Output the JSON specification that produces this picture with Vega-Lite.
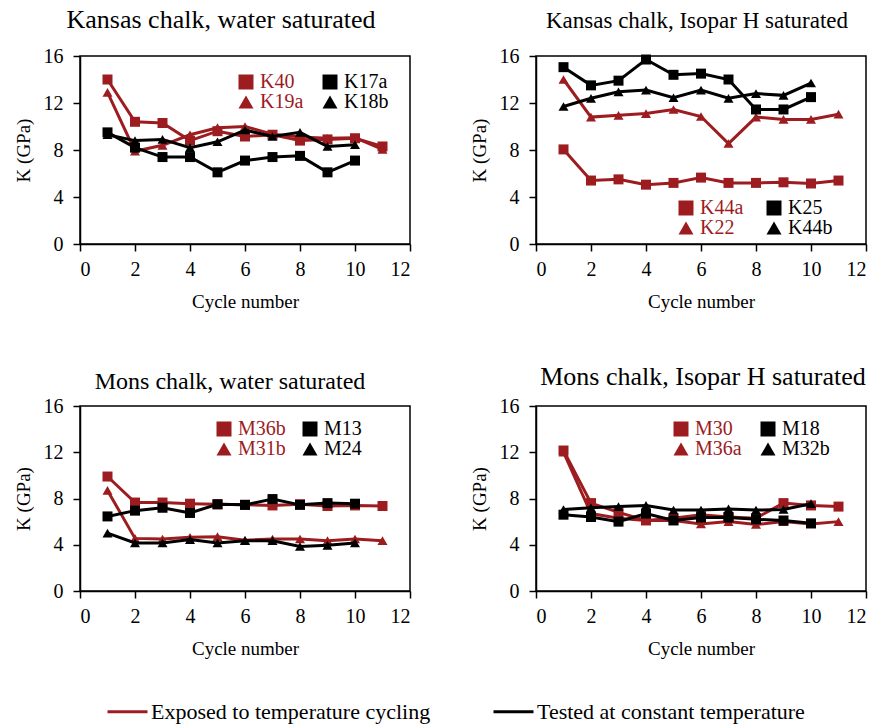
{
  "$schema": "https://vega.github.io/schema/vega-lite/v6.json",
  "background": "white",
  "padding": {"left": 13, "top": 6, "right": 0, "bottom": 0},
  "config": {
    "font": "Liberation Serif",
    "view": {"stroke": "black", "strokeWidth": 1.5},
    "style": {"guide-label": {"font": "Liberation Serif"}, "guide-title": {"font": "Liberation Serif"}},
    "axis": {
      "grid": false, "domainColor": "black", "domainWidth": 1.5,
      "tickColor": "black", "tickWidth": 1.5, "tickSize": 7,
      "labelFont": "Liberation Serif", "labelFontSize": 20, "labelColor": "black",
      "titleFont": "Liberation Serif", "titleFontSize": 19, "titleFontWeight": "normal", "titleColor": "black"
    },
    "axisX": {"labelPadding": 8, "titlePadding": 13},
    "axisY": {"labelPadding": 10, "titlePadding": 10},
    "title": {"font": "Liberation Serif", "fontSize": 26, "fontWeight": "normal", "color": "black", "anchor": "middle", "frame": "group", "baseline": "alphabetic"}
  },
  "datasets": {
    "k": [
      {"p":"A","s":"K40","g":"E","c":1,"k":14.0},{"p":"A","s":"K40","g":"E","c":2,"k":10.4},{"p":"A","s":"K40","g":"E","c":3,"k":10.3},{"p":"A","s":"K40","g":"E","c":4,"k":8.8},{"p":"A","s":"K40","g":"E","c":5,"k":9.6},{"p":"A","s":"K40","g":"E","c":6,"k":9.15},{"p":"A","s":"K40","g":"E","c":7,"k":9.3},{"p":"A","s":"K40","g":"E","c":8,"k":8.8},{"p":"A","s":"K40","g":"E","c":9,"k":8.9},{"p":"A","s":"K40","g":"E","c":10,"k":9.0},{"p":"A","s":"K40","g":"E","c":11,"k":8.3},
      {"p":"A","s":"K19a","g":"E","c":1,"k":12.9},{"p":"A","s":"K19a","g":"E","c":2,"k":7.9},{"p":"A","s":"K19a","g":"E","c":3,"k":8.4},{"p":"A","s":"K19a","g":"E","c":4,"k":9.3},{"p":"A","s":"K19a","g":"E","c":5,"k":9.9},{"p":"A","s":"K19a","g":"E","c":6,"k":10.0},{"p":"A","s":"K19a","g":"E","c":7,"k":9.35},{"p":"A","s":"K19a","g":"E","c":8,"k":9.1},{"p":"A","s":"K19a","g":"E","c":9,"k":9.0},{"p":"A","s":"K19a","g":"E","c":10,"k":9.05},{"p":"A","s":"K19a","g":"E","c":11,"k":8.05},
      {"p":"A","s":"K17a","g":"T","c":1,"k":9.5},{"p":"A","s":"K17a","g":"T","c":2,"k":8.2},{"p":"A","s":"K17a","g":"T","c":3,"k":7.4},{"p":"A","s":"K17a","g":"T","c":4,"k":7.4},{"p":"A","s":"K17a","g":"T","c":5,"k":6.1},{"p":"A","s":"K17a","g":"T","c":6,"k":7.1},{"p":"A","s":"K17a","g":"T","c":7,"k":7.4},{"p":"A","s":"K17a","g":"T","c":8,"k":7.5},{"p":"A","s":"K17a","g":"T","c":9,"k":6.1},{"p":"A","s":"K17a","g":"T","c":10,"k":7.1},
      {"p":"A","s":"K18b","g":"T","c":1,"k":9.3},{"p":"A","s":"K18b","g":"T","c":2,"k":8.8},{"p":"A","s":"K18b","g":"T","c":3,"k":8.9},{"p":"A","s":"K18b","g":"T","c":4,"k":8.2},{"p":"A","s":"K18b","g":"T","c":5,"k":8.7},{"p":"A","s":"K18b","g":"T","c":6,"k":9.7},{"p":"A","s":"K18b","g":"T","c":7,"k":9.15},{"p":"A","s":"K18b","g":"T","c":8,"k":9.5},{"p":"A","s":"K18b","g":"T","c":9,"k":8.3},{"p":"A","s":"K18b","g":"T","c":10,"k":8.45},

      {"p":"B","s":"K44a","g":"E","c":1,"k":8.05},{"p":"B","s":"K44a","g":"E","c":2,"k":5.4},{"p":"B","s":"K44a","g":"E","c":3,"k":5.5},{"p":"B","s":"K44a","g":"E","c":4,"k":5.05},{"p":"B","s":"K44a","g":"E","c":5,"k":5.2},{"p":"B","s":"K44a","g":"E","c":6,"k":5.65},{"p":"B","s":"K44a","g":"E","c":7,"k":5.2},{"p":"B","s":"K44a","g":"E","c":8,"k":5.2},{"p":"B","s":"K44a","g":"E","c":9,"k":5.25},{"p":"B","s":"K44a","g":"E","c":10,"k":5.15},{"p":"B","s":"K44a","g":"E","c":11,"k":5.4},
      {"p":"B","s":"K22","g":"E","c":1,"k":14.0},{"p":"B","s":"K22","g":"E","c":2,"k":10.8},{"p":"B","s":"K22","g":"E","c":3,"k":10.95},{"p":"B","s":"K22","g":"E","c":4,"k":11.1},{"p":"B","s":"K22","g":"E","c":5,"k":11.45},{"p":"B","s":"K22","g":"E","c":6,"k":10.85},{"p":"B","s":"K22","g":"E","c":7,"k":8.55},{"p":"B","s":"K22","g":"E","c":8,"k":10.8},{"p":"B","s":"K22","g":"E","c":9,"k":10.6},{"p":"B","s":"K22","g":"E","c":10,"k":10.6},{"p":"B","s":"K22","g":"E","c":11,"k":11.05},
      {"p":"B","s":"K25","g":"T","c":1,"k":15.05},{"p":"B","s":"K25","g":"T","c":2,"k":13.5},{"p":"B","s":"K25","g":"T","c":3,"k":13.9},{"p":"B","s":"K25","g":"T","c":4,"k":15.7},{"p":"B","s":"K25","g":"T","c":5,"k":14.4},{"p":"B","s":"K25","g":"T","c":6,"k":14.5},{"p":"B","s":"K25","g":"T","c":7,"k":14.0},{"p":"B","s":"K25","g":"T","c":8,"k":11.45},{"p":"B","s":"K25","g":"T","c":9,"k":11.45},{"p":"B","s":"K25","g":"T","c":10,"k":12.5},
      {"p":"B","s":"K44b","g":"T","c":1,"k":11.7},{"p":"B","s":"K44b","g":"T","c":2,"k":12.4},{"p":"B","s":"K44b","g":"T","c":3,"k":12.95},{"p":"B","s":"K44b","g":"T","c":4,"k":13.1},{"p":"B","s":"K44b","g":"T","c":5,"k":12.45},{"p":"B","s":"K44b","g":"T","c":6,"k":13.1},{"p":"B","s":"K44b","g":"T","c":7,"k":12.4},{"p":"B","s":"K44b","g":"T","c":8,"k":12.8},{"p":"B","s":"K44b","g":"T","c":9,"k":12.65},{"p":"B","s":"K44b","g":"T","c":10,"k":13.7},

      {"p":"C","s":"M36b","g":"E","c":1,"k":9.9},{"p":"C","s":"M36b","g":"E","c":2,"k":7.65},{"p":"C","s":"M36b","g":"E","c":3,"k":7.65},{"p":"C","s":"M36b","g":"E","c":4,"k":7.55},{"p":"C","s":"M36b","g":"E","c":5,"k":7.5},{"p":"C","s":"M36b","g":"E","c":6,"k":7.45},{"p":"C","s":"M36b","g":"E","c":7,"k":7.4},{"p":"C","s":"M36b","g":"E","c":8,"k":7.5},{"p":"C","s":"M36b","g":"E","c":9,"k":7.35},{"p":"C","s":"M36b","g":"E","c":10,"k":7.4},{"p":"C","s":"M36b","g":"E","c":11,"k":7.35},
      {"p":"C","s":"M31b","g":"E","c":1,"k":8.7},{"p":"C","s":"M31b","g":"E","c":2,"k":4.55},{"p":"C","s":"M31b","g":"E","c":3,"k":4.5},{"p":"C","s":"M31b","g":"E","c":4,"k":4.65},{"p":"C","s":"M31b","g":"E","c":5,"k":4.7},{"p":"C","s":"M31b","g":"E","c":6,"k":4.4},{"p":"C","s":"M31b","g":"E","c":7,"k":4.5},{"p":"C","s":"M31b","g":"E","c":8,"k":4.5},{"p":"C","s":"M31b","g":"E","c":9,"k":4.35},{"p":"C","s":"M31b","g":"E","c":10,"k":4.5},{"p":"C","s":"M31b","g":"E","c":11,"k":4.35},
      {"p":"C","s":"M13","g":"T","c":1,"k":6.45},{"p":"C","s":"M13","g":"T","c":2,"k":6.95},{"p":"C","s":"M13","g":"T","c":3,"k":7.2},{"p":"C","s":"M13","g":"T","c":4,"k":6.75},{"p":"C","s":"M13","g":"T","c":5,"k":7.5},{"p":"C","s":"M13","g":"T","c":6,"k":7.45},{"p":"C","s":"M13","g":"T","c":7,"k":7.95},{"p":"C","s":"M13","g":"T","c":8,"k":7.45},{"p":"C","s":"M13","g":"T","c":9,"k":7.6},{"p":"C","s":"M13","g":"T","c":10,"k":7.55},
      {"p":"C","s":"M24","g":"T","c":1,"k":5.0},{"p":"C","s":"M24","g":"T","c":2,"k":4.15},{"p":"C","s":"M24","g":"T","c":3,"k":4.15},{"p":"C","s":"M24","g":"T","c":4,"k":4.45},{"p":"C","s":"M24","g":"T","c":5,"k":4.15},{"p":"C","s":"M24","g":"T","c":6,"k":4.35},{"p":"C","s":"M24","g":"T","c":7,"k":4.35},{"p":"C","s":"M24","g":"T","c":8,"k":3.85},{"p":"C","s":"M24","g":"T","c":9,"k":3.95},{"p":"C","s":"M24","g":"T","c":10,"k":4.15},

      {"p":"D","s":"M30","g":"E","c":1,"k":12.15},{"p":"D","s":"M30","g":"E","c":2,"k":7.6},{"p":"D","s":"M30","g":"E","c":3,"k":6.8},{"p":"D","s":"M30","g":"E","c":4,"k":6.1},{"p":"D","s":"M30","g":"E","c":5,"k":6.3},{"p":"D","s":"M30","g":"E","c":6,"k":6.6},{"p":"D","s":"M30","g":"E","c":7,"k":6.4},{"p":"D","s":"M30","g":"E","c":8,"k":6.3},{"p":"D","s":"M30","g":"E","c":9,"k":7.6},{"p":"D","s":"M30","g":"E","c":10,"k":7.4},{"p":"D","s":"M30","g":"E","c":11,"k":7.3},
      {"p":"D","s":"M36a","g":"E","c":1,"k":12.0},{"p":"D","s":"M36a","g":"E","c":2,"k":6.7},{"p":"D","s":"M36a","g":"E","c":3,"k":6.3},{"p":"D","s":"M36a","g":"E","c":4,"k":6.1},{"p":"D","s":"M36a","g":"E","c":5,"k":6.1},{"p":"D","s":"M36a","g":"E","c":6,"k":5.8},{"p":"D","s":"M36a","g":"E","c":7,"k":6.0},{"p":"D","s":"M36a","g":"E","c":8,"k":5.75},{"p":"D","s":"M36a","g":"E","c":9,"k":6.0},{"p":"D","s":"M36a","g":"E","c":10,"k":5.8},{"p":"D","s":"M36a","g":"E","c":11,"k":6.0},
      {"p":"D","s":"M18","g":"T","c":1,"k":6.6},{"p":"D","s":"M18","g":"T","c":2,"k":6.4},{"p":"D","s":"M18","g":"T","c":3,"k":6.0},{"p":"D","s":"M18","g":"T","c":4,"k":6.7},{"p":"D","s":"M18","g":"T","c":5,"k":6.1},{"p":"D","s":"M18","g":"T","c":6,"k":6.35},{"p":"D","s":"M18","g":"T","c":7,"k":6.35},{"p":"D","s":"M18","g":"T","c":8,"k":6.2},{"p":"D","s":"M18","g":"T","c":9,"k":6.1},{"p":"D","s":"M18","g":"T","c":10,"k":5.85},
      {"p":"D","s":"M32b","g":"T","c":1,"k":7.05},{"p":"D","s":"M32b","g":"T","c":2,"k":7.2},{"p":"D","s":"M32b","g":"T","c":3,"k":7.3},{"p":"D","s":"M32b","g":"T","c":4,"k":7.4},{"p":"D","s":"M32b","g":"T","c":5,"k":7.0},{"p":"D","s":"M32b","g":"T","c":6,"k":7.0},{"p":"D","s":"M32b","g":"T","c":7,"k":7.1},{"p":"D","s":"M32b","g":"T","c":8,"k":7.0},{"p":"D","s":"M32b","g":"T","c":9,"k":7.05},{"p":"D","s":"M32b","g":"T","c":10,"k":7.55}
    ]
  },
  "data": {"name": "k"},
  "columns": 2,
  "bounds": "flush",
  "spacing": {"row": 162, "column": 126},
  "resolve": {"scale": {"color": "independent", "shape": "independent"}, "legend": {"color": "independent", "shape": "independent"}},
  "concat": [
    {
      "title": {"text": "Kansas chalk, water saturated", "offset": 13, "dx": -24, "fontSize": 26},
      "width": 330, "height": 188,
      "transform": [{"filter": "datum.p == 'A'"}],
      "encoding": {
        "x": {"field": "c", "type": "quantitative", "scale": {"domain": [0, 12], "nice": false}, "axis": {"values": [0, 2, 4, 6, 8, 10, 12], "title": "Cycle number"}},
        "y": {"field": "k", "type": "quantitative", "scale": {"domain": [0, 16], "nice": false}, "axis": {"values": [0, 4, 8, 12, 16], "title": "K (GPa)"}}
      },
      "layer": [
        {"transform": [{"filter": "datum.g == 'E'"}], "mark": {"type": "line", "strokeWidth": 3}, "encoding": {"color": {"field": "g", "type": "nominal", "scale": {"domain": ["E", "T"], "range": ["#9C1C1F", "#000000"]}, "legend": null}, "detail": {"field": "s"}}},
        {"transform": [{"filter": "datum.g == 'E'"}], "mark": {"type": "point", "filled": true, "opacity": 1, "color": "#9C1C1F", "size": 100, "strokeWidth": 0},
         "encoding": {"shape": {"field": "s", "type": "nominal", "scale": {"domain": ["K40", "K19a"], "range": ["square", "triangle-up"]},
           "legend": {"orient": "none", "legendX": 156, "legendY": 16, "title": null, "direction": "vertical", "padding": 0, "symbolSize": 225, "symbolFillColor": "#9C1C1F", "symbolStrokeColor": "#9C1C1F", "symbolStrokeWidth": 0, "symbolOpacity": 1, "labelColor": "#9C1C1F", "labelFont": "Liberation Serif", "labelFontSize": 20, "labelOffset": 4, "rowPadding": 0}}}},
        {"transform": [{"filter": "datum.g == 'T'"}], "mark": {"type": "line", "strokeWidth": 3}, "encoding": {"color": {"field": "g", "type": "nominal", "scale": {"domain": ["E", "T"], "range": ["#9C1C1F", "#000000"]}, "legend": null}, "detail": {"field": "s"}}},
        {"transform": [{"filter": "datum.g == 'T'"}], "mark": {"type": "point", "filled": true, "opacity": 1, "color": "#000000", "size": 100, "strokeWidth": 0},
         "encoding": {"shape": {"field": "s", "type": "nominal", "scale": {"domain": ["K17a", "K18b"], "range": ["square", "triangle-up"]},
           "legend": {"orient": "none", "legendX": 240, "legendY": 16, "title": null, "direction": "vertical", "padding": 0, "symbolSize": 225, "symbolFillColor": "#000000", "symbolStrokeColor": "#000000", "symbolStrokeWidth": 0, "symbolOpacity": 1, "labelColor": "#000000", "labelFont": "Liberation Serif", "labelFontSize": 20, "labelOffset": 4, "rowPadding": 0}}}}
      ],
      "resolve": {"scale": {"shape": "independent"}, "legend": {"shape": "independent"}}
    },
    {
      "title": {"text": "Kansas chalk, Isopar H saturated", "offset": 13, "dx": -4, "fontSize": 23},
      "width": 330, "height": 188,
      "transform": [{"filter": "datum.p == 'B'"}],
      "encoding": {
        "x": {"field": "c", "type": "quantitative", "scale": {"domain": [0, 12], "nice": false}, "axis": {"values": [0, 2, 4, 6, 8, 10, 12], "title": "Cycle number"}},
        "y": {"field": "k", "type": "quantitative", "scale": {"domain": [0, 16], "nice": false}, "axis": {"values": [0, 4, 8, 12, 16], "title": "K (GPa)"}}
      },
      "layer": [
        {"transform": [{"filter": "datum.g == 'E'"}], "mark": {"type": "line", "strokeWidth": 3}, "encoding": {"color": {"field": "g", "type": "nominal", "scale": {"domain": ["E", "T"], "range": ["#9C1C1F", "#000000"]}, "legend": null}, "detail": {"field": "s"}}},
        {"transform": [{"filter": "datum.g == 'E'"}], "mark": {"type": "point", "filled": true, "opacity": 1, "color": "#9C1C1F", "size": 100, "strokeWidth": 0},
         "encoding": {"shape": {"field": "s", "type": "nominal", "scale": {"domain": ["K44a", "K22"], "range": ["square", "triangle-up"]},
           "legend": {"orient": "none", "legendX": 140, "legendY": 142, "title": null, "direction": "vertical", "padding": 0, "symbolSize": 225, "symbolFillColor": "#9C1C1F", "symbolStrokeColor": "#9C1C1F", "symbolStrokeWidth": 0, "symbolOpacity": 1, "labelColor": "#9C1C1F", "labelFont": "Liberation Serif", "labelFontSize": 20, "labelOffset": 4, "rowPadding": 0}}}},
        {"transform": [{"filter": "datum.g == 'T'"}], "mark": {"type": "line", "strokeWidth": 3}, "encoding": {"color": {"field": "g", "type": "nominal", "scale": {"domain": ["E", "T"], "range": ["#9C1C1F", "#000000"]}, "legend": null}, "detail": {"field": "s"}}},
        {"transform": [{"filter": "datum.g == 'T'"}], "mark": {"type": "point", "filled": true, "opacity": 1, "color": "#000000", "size": 100, "strokeWidth": 0},
         "encoding": {"shape": {"field": "s", "type": "nominal", "scale": {"domain": ["K25", "K44b"], "range": ["square", "triangle-up"]},
           "legend": {"orient": "none", "legendX": 228, "legendY": 142, "title": null, "direction": "vertical", "padding": 0, "symbolSize": 225, "symbolFillColor": "#000000", "symbolStrokeColor": "#000000", "symbolStrokeWidth": 0, "symbolOpacity": 1, "labelColor": "#000000", "labelFont": "Liberation Serif", "labelFontSize": 20, "labelOffset": 4, "rowPadding": 0}}}}
      ],
      "resolve": {"scale": {"shape": "independent"}, "legend": {"shape": "independent"}}
    },
    {
      "title": {"text": "Mons chalk, water saturated", "offset": 2, "dx": -15, "fontSize": 24},
      "width": 330, "height": 185,
      "transform": [{"filter": "datum.p == 'C'"}],
      "encoding": {
        "x": {"field": "c", "type": "quantitative", "scale": {"domain": [0, 12], "nice": false}, "axis": {"values": [0, 2, 4, 6, 8, 10, 12], "title": "Cycle number"}},
        "y": {"field": "k", "type": "quantitative", "scale": {"domain": [0, 16], "nice": false}, "axis": {"values": [0, 4, 8, 12, 16], "title": "K (GPa)"}}
      },
      "layer": [
        {"transform": [{"filter": "datum.g == 'E'"}], "mark": {"type": "line", "strokeWidth": 3},
         "encoding": {"color": {"field": "g", "type": "nominal", "scale": {"domain": ["E", "T"], "range": ["#9C1C1F", "#000000"]},
           "legend": {"orient": "none", "legendX": 26, "legendY": 284, "title": null, "direction": "horizontal", "columns": 2, "columnPadding": 56, "padding": 0, "symbolType": "stroke", "symbolSize": 1600, "symbolStrokeWidth": 3, "labelFont": "Liberation Serif", "labelFontSize": 22, "labelColor": "black", "labelOffset": 2, "labelLimit": 400,
             "labelExpr": "datum.label == 'E' ? 'Exposed to temperature cycling' : 'Tested at constant temperature'"}}, "detail": {"field": "s"}}},
        {"transform": [{"filter": "datum.g == 'E'"}], "mark": {"type": "point", "filled": true, "opacity": 1, "color": "#9C1C1F", "size": 100, "strokeWidth": 0},
         "encoding": {"shape": {"field": "s", "type": "nominal", "scale": {"domain": ["M36b", "M31b"], "range": ["square", "triangle-up"]},
           "legend": {"orient": "none", "legendX": 134, "legendY": 13, "title": null, "direction": "vertical", "padding": 0, "symbolSize": 225, "symbolFillColor": "#9C1C1F", "symbolStrokeColor": "#9C1C1F", "symbolStrokeWidth": 0, "symbolOpacity": 1, "labelColor": "#9C1C1F", "labelFont": "Liberation Serif", "labelFontSize": 20, "labelOffset": 4, "rowPadding": 0}}}},
        {"transform": [{"filter": "datum.g == 'T'"}], "mark": {"type": "line", "strokeWidth": 3},
         "encoding": {"color": {"field": "g", "type": "nominal", "scale": {"domain": ["E", "T"], "range": ["#9C1C1F", "#000000"]},
           "legend": {"orient": "none", "legendX": 26, "legendY": 284, "title": null, "direction": "horizontal", "columns": 2, "columnPadding": 56, "padding": 0, "symbolType": "stroke", "symbolSize": 1600, "symbolStrokeWidth": 3, "labelFont": "Liberation Serif", "labelFontSize": 22, "labelColor": "black", "labelOffset": 2, "labelLimit": 400,
             "labelExpr": "datum.label == 'E' ? 'Exposed to temperature cycling' : 'Tested at constant temperature'"}}, "detail": {"field": "s"}}},
        {"transform": [{"filter": "datum.g == 'T'"}], "mark": {"type": "point", "filled": true, "opacity": 1, "color": "#000000", "size": 100, "strokeWidth": 0},
         "encoding": {"shape": {"field": "s", "type": "nominal", "scale": {"domain": ["M13", "M24"], "range": ["square", "triangle-up"]},
           "legend": {"orient": "none", "legendX": 220, "legendY": 13, "title": null, "direction": "vertical", "padding": 0, "symbolSize": 225, "symbolFillColor": "#000000", "symbolStrokeColor": "#000000", "symbolStrokeWidth": 0, "symbolOpacity": 1, "labelColor": "#000000", "labelFont": "Liberation Serif", "labelFontSize": 20, "labelOffset": 4, "rowPadding": 0}}}}
      ],
      "resolve": {"scale": {"shape": "independent"}, "legend": {"shape": "independent"}}
    },
    {
      "title": {"text": "Mons chalk, Isopar H saturated", "offset": 6, "dx": 2, "fontSize": 26},
      "width": 330, "height": 185,
      "transform": [{"filter": "datum.p == 'D'"}],
      "encoding": {
        "x": {"field": "c", "type": "quantitative", "scale": {"domain": [0, 12], "nice": false}, "axis": {"values": [0, 2, 4, 6, 8, 10, 12], "title": "Cycle number"}},
        "y": {"field": "k", "type": "quantitative", "scale": {"domain": [0, 16], "nice": false}, "axis": {"values": [0, 4, 8, 12, 16], "title": "K (GPa)"}}
      },
      "layer": [
        {"transform": [{"filter": "datum.g == 'E'"}], "mark": {"type": "line", "strokeWidth": 3}, "encoding": {"color": {"field": "g", "type": "nominal", "scale": {"domain": ["E", "T"], "range": ["#9C1C1F", "#000000"]}, "legend": null}, "detail": {"field": "s"}}},
        {"transform": [{"filter": "datum.g == 'E'"}], "mark": {"type": "point", "filled": true, "opacity": 1, "color": "#9C1C1F", "size": 100, "strokeWidth": 0},
         "encoding": {"shape": {"field": "s", "type": "nominal", "scale": {"domain": ["M30", "M36a"], "range": ["square", "triangle-up"]},
           "legend": {"orient": "none", "legendX": 135, "legendY": 13, "title": null, "direction": "vertical", "padding": 0, "symbolSize": 225, "symbolFillColor": "#9C1C1F", "symbolStrokeColor": "#9C1C1F", "symbolStrokeWidth": 0, "symbolOpacity": 1, "labelColor": "#9C1C1F", "labelFont": "Liberation Serif", "labelFontSize": 20, "labelOffset": 4, "rowPadding": 0}}}},
        {"transform": [{"filter": "datum.g == 'T'"}], "mark": {"type": "line", "strokeWidth": 3}, "encoding": {"color": {"field": "g", "type": "nominal", "scale": {"domain": ["E", "T"], "range": ["#9C1C1F", "#000000"]}, "legend": null}, "detail": {"field": "s"}}},
        {"transform": [{"filter": "datum.g == 'T'"}], "mark": {"type": "point", "filled": true, "opacity": 1, "color": "#000000", "size": 100, "strokeWidth": 0},
         "encoding": {"shape": {"field": "s", "type": "nominal", "scale": {"domain": ["M18", "M32b"], "range": ["square", "triangle-up"]},
           "legend": {"orient": "none", "legendX": 222, "legendY": 13, "title": null, "direction": "vertical", "padding": 0, "symbolSize": 225, "symbolFillColor": "#000000", "symbolStrokeColor": "#000000", "symbolStrokeWidth": 0, "symbolOpacity": 1, "labelColor": "#000000", "labelFont": "Liberation Serif", "labelFontSize": 20, "labelOffset": 4, "rowPadding": 0}}}}
      ],
      "resolve": {"scale": {"shape": "independent"}, "legend": {"shape": "independent"}}
    }
  ]
}
